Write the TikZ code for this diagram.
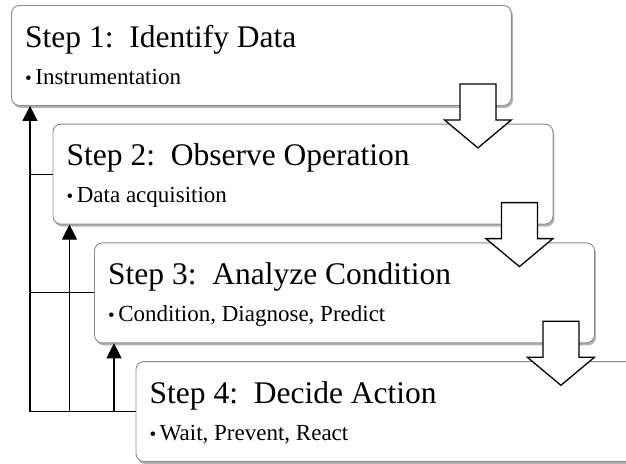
\documentclass[tikz,border=0pt]{standalone}
\usepackage{fontspec}
\setmainfont{Liberation Serif}
\usetikzlibrary{arrows.meta,shadows}

\tikzset{
  stepbox/.style={draw=black!45, line width=0.9pt, fill=white, rounded corners=8pt,
    minimum width=500pt, minimum height=100pt, inner sep=0pt, anchor=north west,
    drop shadow={shadow xshift=1.5pt, shadow yshift=-2.5pt, fill=black, opacity=0.3}},
  steptitle/.style={anchor=base west, inner sep=0pt, font=\fontsize{31.5}{36}\selectfont},
  stepitem/.style={anchor=base west, inner sep=0pt, font=\fontsize{23}{27}\selectfont},
  blockarrow/.style={draw=black, line width=1.3pt, fill=white, line join=miter},
  fb/.style={line width=1.2pt, -{Triangle[width=15pt,length=15pt]}},
  fbline/.style={line width=1.2pt}
}
\newcommand{\stepdot}{{\fontsize{19}{20}\selectfont\textbullet}\hspace{3.5pt}}

\begin{document}
\begin{tikzpicture}[x=1pt, y=-1pt]
  \useasboundingbox (0,0) rectangle (626,463);

  % the four step boxes, stacked like stairs
  \foreach \i/\title/\bul in {1/Identify Data/Instrumentation,
      2/Observe Operation/Data acquisition,
      3/Analyze Condition/{Condition, Diagnose, Predict},
      4/Decide Action/{Wait, Prevent, React}} {
    \node[stepbox] (s\i) at ({11+41.5*(\i-1)}, {5+118.7*(\i-1)}) {};
    \node[steptitle, xshift=14pt, yshift=-42pt] (t\i) at (s\i.north west) {Step \i:\ \ \title};
    \node[stepitem, xshift=14pt, yshift=-79pt] (b\i) at (s\i.north west) {\stepdot\bul};
  };

  % hollow arrows from each step down to the next
  \foreach \i in {1,2,3} {
    \draw[blockarrow] (s\i.south east) ++(-52,-22) -- ++(36,0) -- ++(0,36) -- ++(15.5,0)
      -- ++(-33.5,28) -- ++(-33.5,-28) -- ++(15.5,0) -- cycle;
  };

  % feedback paths on the left
  \coordinate (c1) at ([xshift=19pt]s1.south west);
  \coordinate (c2) at ([xshift=17pt]s2.south west);
  \coordinate (c3) at ([xshift=20pt]s3.south west);
  \draw[fb] (s4.west) -| (c1);
  \draw[fbline] (s2.west) -- (s2.west -| c1);
  \draw[fbline] (s3.west) -- (s3.west -| c1);
  \draw[fb] (s4.west -| c2) -- (c2);
  \draw[fb] (s4.west -| c3) -- (c3);
\end{tikzpicture}
\end{document}
